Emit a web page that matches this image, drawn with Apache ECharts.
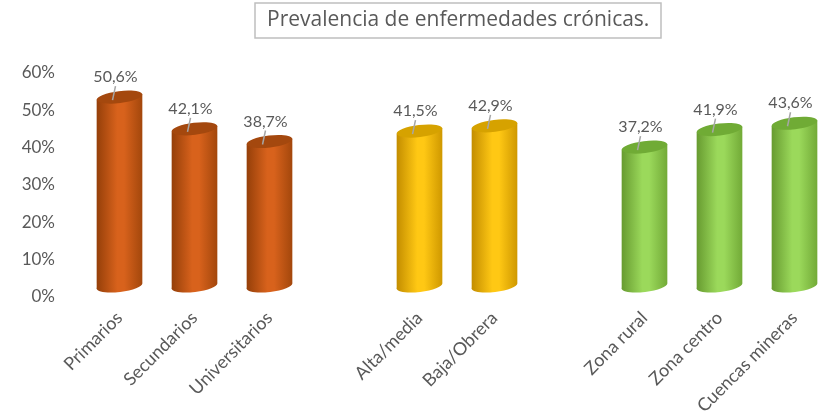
<!DOCTYPE html>
<html>
<head>
<meta charset="utf-8">
<title>Prevalencia de enfermedades crónicas</title>
<script src="https://cdn.jsdelivr.net/npm/echarts@6/dist/echarts.min.js"></script>
<style>
  html, body { margin: 0; padding: 0; background: #fff; }
  #chart { width: 832px; height: 419px; }
</style>
</head>
<body>
<div id="chart"></div>
<script>
// Prevalence by level of studies, social class and area of residence (%)
const studyLabels = ['Primarios', 'Secundarios', 'Universitarios'];
const studyValues = [50.6, 42.1, 38.7];
const classLabels = ['Alta/media', 'Baja/Obrera'];
const classValues = [41.5, 42.9];
const areaLabels = ['Zona rural', 'Zona centro', 'Cuencas mineras'];
const areaValues = [37.2, 41.9, 43.6];
const yTicks = [0, 10, 20, 30, 40, 50, 60];

// Cylinder palettes: [left edge, highlight, right edge, top face]
const palettes = [
  ['#953f09', '#d8621c', '#a3470c', '#a4480e'],
  ['#c38d00', '#ffc814', '#cf9800', '#d6a200'],
  ['#679b30', '#9bd95b', '#72aa37', '#70ab35']
];

// Build the category axis with an empty slot between groups
const groups = [
  [studyLabels, studyValues],
  [classLabels, classValues],
  [areaLabels, areaValues]
];
const categories = [];
const seriesData = [];
groups.forEach(([labels, values], g) => {
  if (g > 0) categories.push('');
  const pts = [];
  labels.forEach((lab, i) => {
    pts.push([categories.length, values[i]]);
    categories.push(lab);
  });
  seriesData.push(pts);
});

const fmt = v => v.toFixed(1).replace('.', ',') + '%';
const labelFont = 'Lato, "Open Sans", sans-serif';

function cylinder(palette) {
  return function (params, api) {
    const idx = api.value(0);
    const v = api.value(1);
    const topPt = api.coord([idx, v]);
    const basePt = api.coord([idx, 0]);
    const lift = 11;              // floor depth of the 3D view
    const rx = 23, ry = 6, tilt = 0.12;
    const cx = topPt[0];
    const yTop = topPt[1] - lift;
    const yBot = basePt[1] - lift;
    const dx = rx * Math.cos(tilt), dy = rx * Math.sin(tilt);
    const bodyFill = new echarts.graphic.LinearGradient(0, 0, 1, 0, [
      { offset: 0, color: palette[0] },
      { offset: 0.45, color: palette[1] },
      { offset: 0.6, color: palette[1] },
      { offset: 1, color: palette[2] }
    ]);
    return {
      type: 'group',
      children: [
        {
          type: 'ellipse',
          shape: { cx: cx, cy: yBot, rx: rx, ry: ry },
          originX: cx, originY: yBot, rotation: tilt,
          style: { fill: bodyFill }
        },
        {
          type: 'polygon',
          shape: {
            points: [
              [cx - dx, yTop + dy], [cx + dx, yTop - dy],
              [cx + dx, yBot - dy], [cx - dx, yBot + dy]
            ]
          },
          style: { fill: bodyFill }
        },
        {
          type: 'ellipse',
          shape: { cx: cx, cy: yTop, rx: rx, ry: ry },
          originX: cx, originY: yTop, rotation: tilt,
          style: { fill: palette[3] }
        },
        {
          type: 'line',
          shape: { x1: cx - 4, y1: yTop - 11, x2: cx - 7, y2: yTop + 3 },
          style: { stroke: '#a6a6a6', lineWidth: 1.5 }
        },
        {
          type: 'text',
          x: cx - 4, y: yTop - 20,
          style: {
            text: fmt(v), fill: '#595959',
            font: '16px ' + labelFont,
            align: 'center', verticalAlign: 'middle'
          }
        }
      ]
    };
  };
}

const chart = echarts.init(document.getElementById('chart'), null, { renderer: 'canvas' });
chart.setOption({
  animation: false,
  title: {
    text: 'Prevalencia de enfermedades crónicas.',
    left: 255, top: 3,
    padding: [7, 12, 7, 12],
    borderColor: '#bfbfbf', borderWidth: 1.5,
    textStyle: { fontFamily: '"Open Sans", Lato, sans-serif', fontSize: 21, fontWeight: 'normal', color: '#595959' }
  },
  grid: { left: 82, right: -3, top: 73, bottom: 122, containLabel: false },
  xAxis: {
    type: 'category',
    data: categories,
    axisLine: { show: false },
    axisTick: { show: false },
    axisLabel: {
      interval: 0, rotate: 45, margin: 18,
      color: '#595959', fontSize: 18, fontFamily: labelFont
    }
  },
  yAxis: {
    type: 'value',
    min: yTicks[0], max: yTicks[yTicks.length - 1], interval: yTicks[1] - yTicks[0],
    axisLine: { show: false },
    axisTick: { show: false },
    splitLine: { show: false },
    axisLabel: {
      formatter: '{value}%', margin: 27,
      color: '#595959', fontSize: 17, fontFamily: labelFont
    }
  },
  series: seriesData.map((data, g) => ({
    type: 'custom',
    renderItem: cylinder(palettes[g]),
    encode: { x: 0, y: 1 },
    data: data
  }))
});
</script>
</body>
</html>
